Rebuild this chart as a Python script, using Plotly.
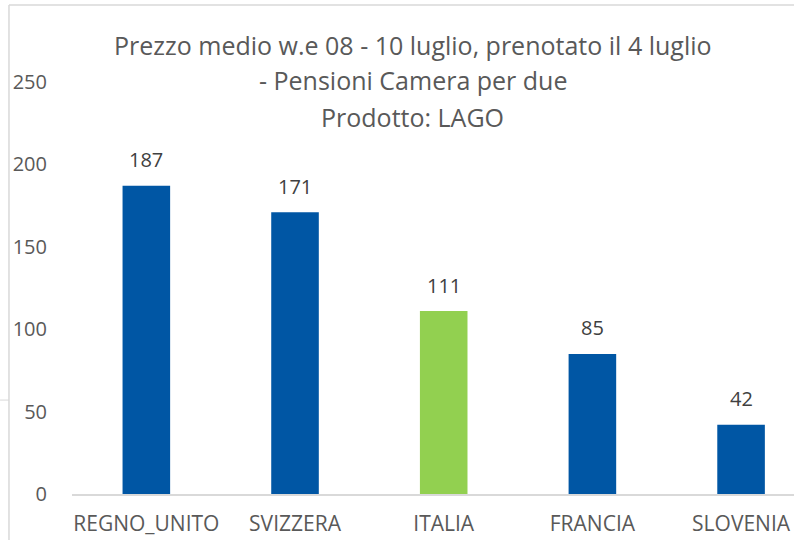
import plotly.graph_objects as go

categories = ["REGNO_UNITO", "SVIZZERA", "ITALIA", "FRANCIA", "SLOVENIA"]
values = [187, 171, 111, 85, 42]
bar_colors = ["#0056A4", "#0056A4", "#92D050", "#0056A4", "#0056A4"]
y_ticks = [0, 50, 100, 150, 200, 250]
title_lines = [
    "Prezzo medio w.e 08 - 10 luglio, prenotato il 4 luglio",
    "- Pensioni Camera per due",
    "Prodotto: LAGO",
]

FONT = "Open Sans"
fig = go.Figure()
fig.add_trace(go.Bar(
    x=categories, y=values, marker=dict(color=bar_colors, line=dict(width=0)),
    width=0.32, showlegend=False, hoverinfo="x+y",
))

annotations = []
for c, v in zip(categories, values):
    annotations.append(dict(x=c, y=v, xref="x", yref="y", text=str(v), showarrow=False,
                            yanchor="middle", yshift=26,
                            font=dict(family=FONT, size=20, color="#404040")))
title_y = [1.09, 1.005, 0.915]
for t, yy in zip(title_lines, title_y):
    annotations.append(dict(x=0.472, y=yy, xref="paper", yref="paper", text=t, showarrow=False,
                            xanchor="center", yanchor="middle",
                            font=dict(family=FONT, size=25, color="#595959")))

fig.update_layout(
    width=794, height=540,
    margin=dict(l=72, r=0, t=82, b=46),
    paper_bgcolor="white", plot_bgcolor="white",
    annotations=annotations,
    xaxis=dict(range=[-0.5, 4.356], showgrid=False, showline=True, linecolor="#D9D9D9",
               linewidth=1.5, ticks="outside", ticklen=10, tickcolor="rgba(0,0,0,0)",
               tickfont=dict(family=FONT, size=21, color="#595959"), zeroline=False,
               automargin=False),
    yaxis=dict(range=[0, 250], tickvals=y_ticks, showgrid=False, showline=False, zeroline=False,
               ticks="outside", ticklen=20, tickcolor="rgba(0,0,0,0)",
               tickfont=dict(family=FONT, size=20, color="#595959"), automargin=False),
    shapes=[
        dict(type="line", xref="paper", yref="paper", x0=-0.0873, x1=-0.0873, y0=1.187, y1=-0.12,
             line=dict(color="#D9D9D9", width=1.5)),
        dict(type="line", xref="paper", yref="paper", x0=-0.0873, x1=1.0, y0=1.187, y1=1.187,
             line=dict(color="#D9D9D9", width=1.5)),
        dict(type="line", xref="paper", yref="paper", x0=-0.0997, x1=-0.0873, y0=0.228, y1=0.228,
             line=dict(color="#D9D9D9", width=1)),
    ],
)

fig.write_html("out.html", config={"displayModeBar": False},
               post_script="document.body.style.margin='0';")
